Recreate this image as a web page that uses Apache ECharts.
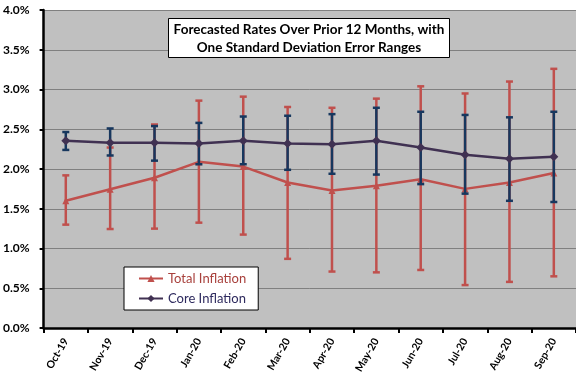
<!DOCTYPE html>
<html><head><meta charset="utf-8">
<script src="https://cdn.jsdelivr.net/npm/echarts@6/dist/echarts.min.js"></script>
<style>html,body{margin:0;padding:0;background:#fff}#c{width:576px;height:385px}</style>
</head><body><div id="c"></div>
<script>
const categories = ['Oct-19','Nov-19','Dec-19','Jan-20','Feb-20','Mar-20','Apr-20','May-20','Jun-20','Jul-20','Aug-20','Sep-20'];
const totalInflation = [1.60, 1.745, 1.89, 2.09, 2.03, 1.83, 1.73, 1.79, 1.87, 1.75, 1.83, 1.95];
const totalHigh = [1.92, 2.27, 2.56, 2.86, 2.91, 2.78, 2.77, 2.885, 3.04, 2.95, 3.10, 3.26];
const totalLow = [1.30, 1.245, 1.25, 1.325, 1.175, 0.87, 0.71, 0.70, 0.73, 0.54, 0.58, 0.65];
const coreInflation = [2.356, 2.33, 2.33, 2.32, 2.355, 2.32, 2.31, 2.356, 2.27, 2.18, 2.13, 2.155];
const coreHigh = [2.465, 2.51, 2.54, 2.58, 2.66, 2.67, 2.69, 2.77, 2.72, 2.68, 2.65, 2.72];
const coreLow = [2.24, 2.17, 2.105, 2.06, 2.06, 1.99, 1.94, 1.93, 1.81, 1.69, 1.60, 1.585];
const yTicks = [0, 0.5, 1.0, 1.5, 2.0, 2.5, 3.0, 3.5, 4.0];

const RED = '#C0504D', CORE = '#403152', NAVY = '#17375E';
function errBars(name, color, low, high, z) {
  return {
    type: 'custom', name: name, z: z, silent: true,
    data: categories.map((c, i) => [i, low[i], high[i]]),
    encode: { x: 0, y: [1, 2] },
    renderItem: function (params, api) {
      const x = api.value(0);
      const lo = api.coord([x, api.value(1)]);
      const hi = api.coord([x, api.value(2)]);
      const w = 3.5;
      const st = { stroke: color, lineWidth: 2.5 };
      return { type: 'group', children: [
        { type: 'line', shape: { x1: lo[0], y1: lo[1], x2: hi[0], y2: hi[1] }, style: st },
        { type: 'line', shape: { x1: lo[0] - w, y1: lo[1], x2: lo[0] + w, y2: lo[1] }, style: st },
        { type: 'line', shape: { x1: hi[0] - w, y1: hi[1], x2: hi[0] + w, y2: hi[1] }, style: st }
      ]};
    }
  };
}
const chart = echarts.init(document.getElementById('c'), null, { renderer: 'canvas' });
chart.setOption({
  animation: false,
  backgroundColor: '#fff',
  title: {
    text: 'Forecasted Rates Over Prior 12 Months, with\nOne Standard Deviation Error Ranges',
    left: 304, top: 18, textAlign: 'center',
    backgroundColor: '#fff', borderColor: '#000', borderWidth: 1,
    padding: [3, 5, 1, 5],
    textStyle: { fontFamily: 'Lato', fontWeight: 'bold', fontSize: 13.5, lineHeight: 18, color: '#000' }
  },
  legend: {
    orient: 'vertical', left: 124, top: 267,
    backgroundColor: '#fff', borderColor: '#000', borderWidth: 1,
    padding: [4, 12, 4, 14], itemGap: 5, itemWidth: 24, itemHeight: 9,
    textStyle: { fontFamily: 'Lato', fontSize: 13, lineHeight: 15 },
    data: [
      { name: 'Total Inflation', textStyle: { color: '#A8403C' } },
      { name: 'Core Inflation', textStyle: { color: '#2E2A5E' } }
    ]
  },
  grid: { left: 42, right: 0, top: 10, bottom: 57, show: true, backgroundColor: '#C0C0C0', borderWidth: 0 },
  xAxis: {
    type: 'category', data: categories, boundaryGap: true,
    axisLine: { lineStyle: { color: '#000', width: 2.5 } },
    axisTick: { show: true, interval: 0, length: 5, lineStyle: { color: '#000', width: 2 } },
    axisLabel: { interval: 0, rotate: 60, margin: 11, fontFamily: 'Lato', fontWeight: 'bold', fontSize: 10.5, color: '#000' }
  },
  yAxis: {
    type: 'value', min: yTicks[0], max: yTicks[yTicks.length - 1], interval: 0.5,
    axisLine: { show: true, lineStyle: { color: '#000', width: 2.5 } },
    axisTick: { show: true, length: 4, lineStyle: { color: '#000', width: 2 } },
    splitLine: { lineStyle: { color: '#808080', width: 1 } },
    axisLabel: { margin: 14, fontFamily: 'Lato', fontWeight: 'bold', fontSize: 12, color: '#000',
      formatter: v => v.toFixed(1) + '%' }
  },
  series: [
    errBars('Total Inflation error range', RED, totalLow, totalHigh, 2),
    { name: 'Total Inflation', type: 'line', data: totalInflation, z: 3,
      symbol: 'triangle', symbolSize: 7,
      lineStyle: { color: RED, width: 2.5 }, itemStyle: { color: RED } },
    errBars('Core Inflation error range', NAVY, coreLow, coreHigh, 4),
    { name: 'Core Inflation', type: 'line', data: coreInflation, z: 5,
      symbol: 'diamond', symbolSize: 9,
      lineStyle: { color: CORE, width: 2.5 }, itemStyle: { color: CORE } }
  ]
});
</script></body></html>
